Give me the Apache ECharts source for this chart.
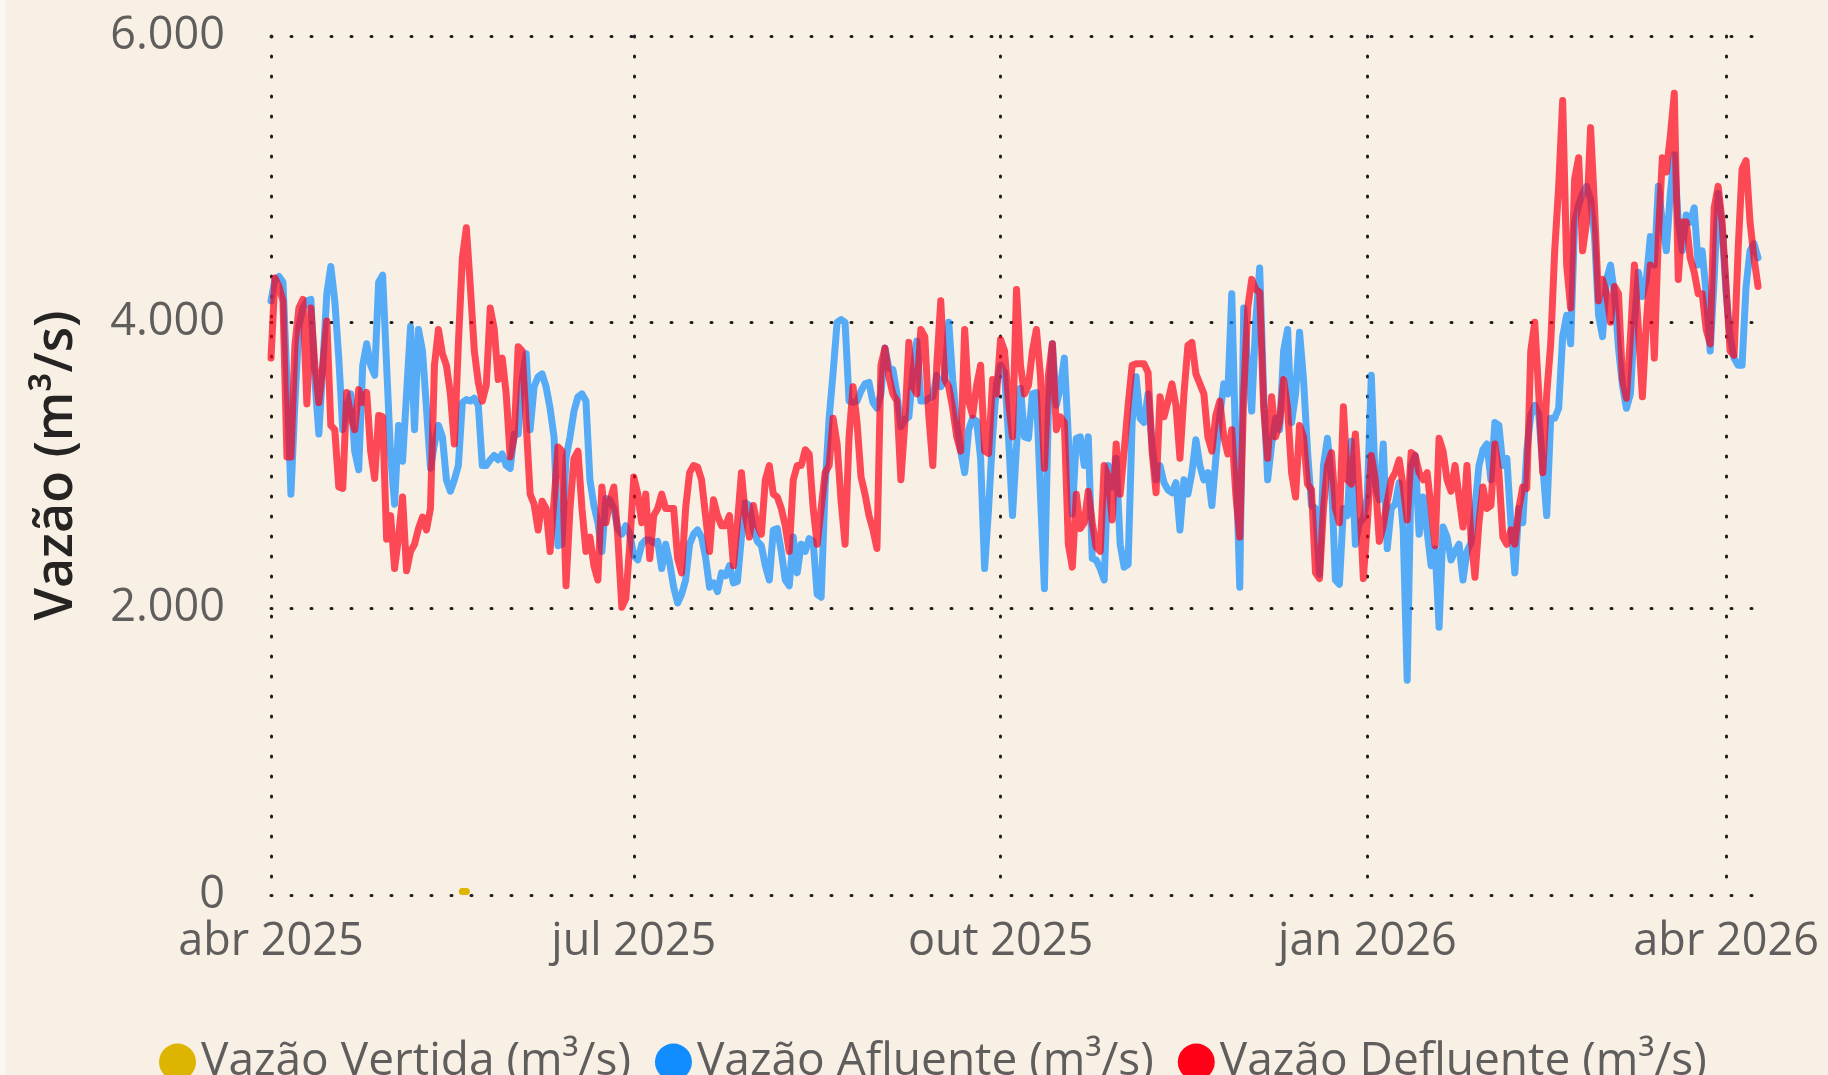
<!DOCTYPE html>
<html>
<head>
<meta charset="utf-8">
<script src="https://cdn.jsdelivr.net/npm/echarts@6/dist/echarts.min.js"></script>
<style>
  html, body { margin: 0; padding: 0; background: #F8F0E5; }
  #vazao-echart { width: 1828px; height: 1075px; }
</style>
</head>
<body>
<div id="vazao-echart"></div>
<script>
// serie diaria a partir de startDate (um valor por dia)
const startDate = '2025-04-01';

const vazaoAfluente = [
  4150, 4300, 4320, 4280, 3600, 2800, 3440, 3970, 4100, 4150,
  4160, 3600, 3220, 3700, 4200, 4390, 4150, 3750, 3250, 3400,
  3500, 3100, 2970, 3700, 3850, 3700, 3630, 4280, 4330, 3700,
  3070, 2730, 3280, 3030, 3500, 3970, 3250, 3950, 3800, 3400,
  2980, 3150, 3280, 3200, 2900, 2820, 2900, 3000, 3440, 3460,
  3450, 3470, 3420, 3000, 3000, 3040, 3070, 3040, 3080, 3000,
  2980, 3220, 3220, 3600, 3780, 3250, 3550, 3620, 3640, 3550,
  3400, 3200, 2440, 2450, 3050, 3200, 3380, 3480, 3500, 3450,
  2900, 2720, 2600, 2400, 2770, 2760, 2700, 2560, 2520, 2580,
  2520, 2370, 2340, 2450, 2480, 2480, 2460, 2470, 2280, 2450,
  2320, 2150, 2040, 2100, 2200, 2450, 2520, 2550, 2500, 2360,
  2150, 2180, 2120, 2250, 2230, 2300, 2180, 2190, 2500, 2740,
  2720, 2550, 2470, 2440, 2300, 2200, 2550, 2560, 2400, 2200,
  2160, 2500, 2250, 2450, 2400, 2490, 2470, 2100, 2080, 2850,
  3330, 3650, 4000, 4020, 4000, 3450, 3440, 3450, 3520, 3570,
  3580, 3440, 3400, 3500, 3820, 3680, 3670, 3500, 3270, 3320,
  3340, 3650, 3870, 3450, 3450, 3470, 3480, 3630, 3550, 3600,
  4000, 3600, 3300, 3100, 2950, 3250, 3330, 3310, 3050, 2280,
  2700, 3200, 3570, 3700, 3650, 3200, 2650, 3130, 3540, 3200,
  3190, 3500, 3510, 2800, 2140, 3400, 3850, 3420, 3550, 3750,
  3200, 2660, 3190, 3200, 3000, 3200, 2350, 2340, 2280, 2200,
  3000, 2850, 3050, 2450, 2290, 2310, 3300, 3620, 3330, 3300,
  3500, 3150, 2900, 3000, 2880, 2830, 2810, 2880, 2550, 2900,
  2800, 2950, 3180, 3000, 2900, 2950, 2720, 3050, 3350, 3570,
  3500, 4200, 3100, 2150, 4100, 3700, 3380, 4000, 4380, 3500,
  2900, 3150, 3330, 3250, 3800, 3950, 3300, 3500, 3930, 3600,
  3100, 2720, 2700, 2240, 3000, 3190, 2900, 2200, 2170, 2700,
  2650, 3170, 2450, 2600, 2630, 2780, 3630, 2870, 2760, 3150,
  2420, 2700, 2730, 2880, 2550, 1500, 3000, 3070, 2520, 2780,
  2540, 2300, 2420, 1870, 2570, 2500, 2340, 2400, 2450, 2200,
  2400, 2460, 2700, 3000, 3110, 3150, 2900, 3300, 3280, 3000,
  3050, 2600, 2250, 2700, 2600, 3100, 3350, 3420, 3360, 3000,
  2650, 3330, 3330, 3400, 3900, 4050, 3850, 4700, 4820, 4900,
  4950, 4860, 4600, 4050, 3900, 4300, 4400, 4200, 3820, 3560,
  3400, 3500, 4000, 4350, 4180, 4300, 4600, 4400, 4950, 4700,
  4500, 4900, 5170, 4700, 4500, 4750, 4700, 4800, 4400, 4500,
  4200, 3800, 4300, 4900, 4650, 4200, 3900, 3750, 3700, 3700,
  4250, 4500, 4550, 4450
];

const vazaoDefluente = [
  3750, 4310, 4250, 4150, 3060, 3060, 3840, 4100, 4160, 3430,
  4100, 3700, 3440, 3700, 4010, 3280, 3250, 2850, 2840, 3510,
  3350, 3250, 3530, 3440, 3510, 3100, 2910, 3350, 3340, 2485,
  2650, 2280, 2500, 2780, 2265, 2400, 2450, 2560, 2640, 2550,
  2700, 3700, 3950, 3780, 3700, 3500, 3150, 3850, 4450, 4660,
  4250, 3800, 3580, 3450, 3560, 4100, 3950, 3600, 3750, 3500,
  3060, 3200, 3830, 3800, 3300, 2800, 2730, 2550, 2750, 2700,
  2400, 2750, 3130, 3100, 2160, 2700, 3050, 3100, 2700, 2400,
  2500, 2300, 2200, 2850, 2600, 2750, 2850, 2500, 2010, 2070,
  2450, 2920, 2800, 2600, 2800, 2350, 2650, 2700, 2800, 2700,
  2700, 2700, 2350, 2250, 2700, 2950, 3000, 2990, 2900, 2650,
  2400, 2760, 2650, 2580, 2580, 2650, 2300, 2600, 2950, 2650,
  2500, 2720, 2580, 2520, 2900, 3000, 2800, 2780, 2700, 2580,
  2400, 2900, 3000, 3000, 3110, 3080, 2700, 2450, 2700, 2950,
  3000, 3330, 3150, 2750, 2450, 3200, 3550, 3300, 2920, 2800,
  2650, 2550, 2420, 3700, 3820, 3620, 3500, 3450, 2900, 3300,
  3860, 3550, 3500, 3950, 3900, 3350, 3000, 3700, 4150, 3600,
  3550, 3400, 3200, 3100, 3950, 3450, 3350, 3560, 3700, 3100,
  3085, 3600, 3500, 3880, 3800, 3450, 3200, 4230, 3700, 3500,
  3560, 3800, 3950, 3630, 2980, 3630, 3850, 3250, 3340, 3300,
  2450, 2290, 2800, 2560, 2600, 2820, 2600, 2430, 2400, 3000,
  2920, 2620, 3150, 2800, 3100, 3420, 3700, 3710, 3710, 3710,
  3650, 3100, 2810, 3480, 3340, 3450, 3570, 3420, 3050, 3500,
  3840, 3860, 3640, 3570, 3500, 3200, 3100, 3350, 3450, 3200,
  3080, 3250, 2800, 2500, 3500, 4100, 4300, 4230, 4210, 3400,
  3050, 3480, 3200, 3300, 3600, 3400, 2950, 2780, 3280, 3200,
  2870, 2830, 2250, 2210, 2700, 3000, 3090, 2700, 2600, 3410,
  2900, 2870, 3220, 2800, 2210, 2600, 3070, 2900, 2470, 2580,
  2750, 2900, 2950, 3040, 2850, 2620, 3090, 3070, 2950, 2900,
  2950, 2700, 2440, 3190, 3100, 2900, 2820, 3000, 2780, 2570,
  3000, 2500, 2220, 2600, 2850, 2700, 2720, 3150, 2950, 2500,
  2450, 2550, 2450, 2700, 2850, 2840, 3800, 4000, 3500, 2950,
  3500, 3850, 4500, 4950, 5550, 4400, 4100, 5000, 5150, 4500,
  4700, 5360, 4800, 4150, 4300, 4200, 4000, 4250, 4200, 3600,
  3470, 3900, 4400, 3950, 3480, 4000, 4400, 3750, 4600, 5150,
  5050, 5300, 5600, 4300, 4700, 4700, 4450, 4350, 4200, 4200,
  3950, 3850, 4800, 4950, 4700, 4250, 3800, 3770, 4500, 5070,
  5130, 4700, 4450, 4250
];

// vertimento so aparece em dois dias de maio
const vertidaDias = ['2025-05-19', '2025-05-20'];
const vazaoVertida = [25, 25];

const xTickDates = ['2025-04-01', '2025-07-01', '2025-10-01', '2026-01-01', '2026-04-01'];
const xTickLabels = ['abr 2025', 'jul 2025', 'out 2025', 'jan 2026', 'abr 2026'];
const yTicks = [0, 2000, 4000, 6000];

// eixo x em dias desde startDate
const DAY = 86400000;
const toTime = d => new Date(d + 'T00:00:00Z').getTime();
const toDia = d => Math.round((toTime(d) - toTime(startDate)) / DAY);
const xTickDias = xTickDates.map(toDia);

const serie = arr => arr.map((v, i) => [i, v]);
const milhar = v => String(v).replace(/\B(?=(\d{3})+(?!\d))/g, '.');

const fonte = "'Segoe UI', 'Open Sans', sans-serif";
const pontilhado = {
  color: '#1f1f1f',
  width: 3,
  type: [1, 19],
  cap: 'round'
};

const echart = echarts.init(document.getElementById('vazao-echart'));
echart.setOption({
  backgroundColor: '#F8F0E5',
  animation: false,
  graphic: [{
    type: 'rect',
    left: 0,
    top: 0,
    shape: { width: 5, height: 1075 },
    style: { fill: '#FBF8F3' }
  }],
  grid: {
    left: 271,
    right: 66,
    top: 36,
    bottom: 180
  },
  legend: {
    left: 154,
    top: 1034,
    icon: 'circle',
    itemWidth: 37,
    itemHeight: 37,
    itemGap: 24,
    textStyle: {
      color: '#605E5C',
      fontSize: 46,
      fontFamily: fonte
    },
    data: ['Vazão Vertida (m³/s)', 'Vazão Afluente (m³/s)', 'Vazão Defluente (m³/s)']
  },
  xAxis: {
    type: 'value',
    min: 0,
    max: toDia('2026-04-10'),
    axisLine: { show: false },
    axisTick: { show: false, customValues: xTickDias },
    axisLabel: {
      customValues: xTickDias,
      margin: 25,
      color: '#605E5C',
      fontSize: 45,
      fontFamily: fonte,
      formatter: v => xTickLabels[xTickDias.indexOf(v)] || ''
    },
    splitLine: {
      show: true,
      lineStyle: pontilhado
    }
  },
  yAxis: {
    type: 'value',
    min: yTicks[0],
    max: yTicks[yTicks.length - 1],
    interval: 2000,
    name: 'Vazão (m³/s)',
    nameLocation: 'middle',
    nameGap: 188,
    nameTextStyle: {
      color: '#252423',
      fontSize: 52,
      fontWeight: 600,
      fontFamily: fonte
    },
    axisLine: { show: false },
    axisTick: { show: false },
    axisLabel: {
      margin: 46,
      color: '#605E5C',
      fontSize: 45,
      fontFamily: fonte,
      formatter: v => milhar(v)
    },
    splitLine: {
      show: true,
      lineStyle: pontilhado
    }
  },
  series: [{
    name: 'Vazão Vertida (m³/s)',
    type: 'line',
    showSymbol: false,
    itemStyle: { color: '#DDB400' },
    lineStyle: { width: 7, cap: 'round', join: 'round' },
    data: vertidaDias.map((d, i) => [toDia(d), vazaoVertida[i]])
  }, {
    name: 'Vazão Afluente (m³/s)',
    type: 'line',
    showSymbol: false,
    itemStyle: { color: '#118DFF' },
    lineStyle: { width: 7, opacity: 0.7, cap: 'round', join: 'round' },
    data: serie(vazaoAfluente)
  }, {
    name: 'Vazão Defluente (m³/s)',
    type: 'line',
    showSymbol: false,
    itemStyle: { color: '#FF0018' },
    lineStyle: { width: 7, opacity: 0.7, cap: 'round', join: 'round' },
    data: serie(vazaoDefluente)
  }]
});
window.addEventListener('resize', () => {
  echart.resize();
});
</script>
</body>
</html>
